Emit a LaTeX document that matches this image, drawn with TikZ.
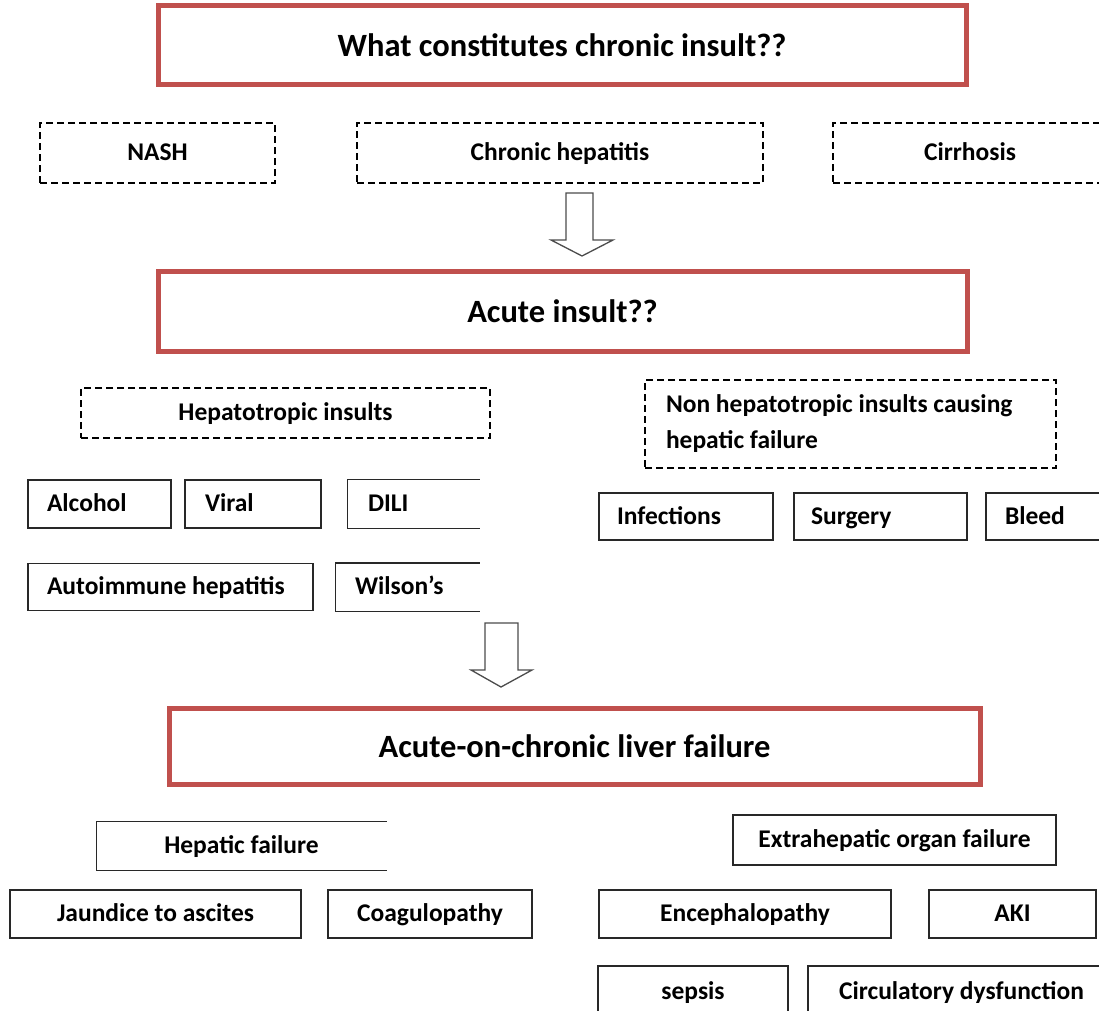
\documentclass[tikz,border=0pt]{standalone}
\usepackage{fontspec}
\setmainfont{Carlito}
\definecolor{accred}{RGB}{192,80,77}
\definecolor{boxgray}{RGB}{40,40,40}
\tikzset{
  x=1pt, y=-1pt,
  fixh/.style={text height=19pt, text depth=4pt},
  redbox/.style={draw=accred, line width=5pt, inner sep=0pt, font=\fontsize{32.5}{38}\selectfont\bfseries},
  dbox/.style={draw=black, line width=2pt, dash pattern=on 7pt off 4pt, inner sep=0pt, font=\fontsize{25.5}{36}\selectfont\bfseries},
  sbox/.style={draw=boxgray, line width=1.3pt, inner sep=0pt, fixh, font=\fontsize{25.5}{30}\selectfont\bfseries},
  obox/.style={sbox, draw=none},
  lft/.style={align=flush left, inner xsep=#1},
  blockarrow/.style={draw=black!70, line width=1.3pt, fill=white},
}
\begin{document}
\begin{tikzpicture}
\useasboundingbox (0,0) rectangle (1099,1010);
\clip (0,0) rectangle (1099,1010);
\fill[white] (0,0) rectangle (1099,1010);

% headings
\node[redbox, minimum width=808, minimum height=79] (r1) at (562,45) {What constitutes chronic insult??};
\node[redbox, minimum width=809, minimum height=80] (r2) at (562.5,311) {Acute insult??};
\node[redbox, minimum width=811, minimum height=76] (r3) at (574.5,746) {Acute-on-chronic liver failure};

% chronic insults
\node[dbox, fixh, minimum width=235, minimum height=60] (nash) at (157.5,153) {NASH};
\node[dbox, fixh, minimum width=406, minimum height=60] (chep) at (560,153) {Chronic hepatitis};
\node[dbox, fixh, minimum width=274, minimum height=60] (cirr) at (970,153) {Cirrhosis};

% arrow 1
\draw[blockarrow] (566,193) -- (593,193) -- (593,240) -- (613,240) -- (582,256) -- (551,240) -- (566,240) -- cycle;

% acute insults
\node[dbox, fixh, minimum width=409, minimum height=50] (hep) at (285.5,413) {Hepatotropic insults};
\node[dbox, minimum width=411, minimum height=88, text width=369pt, lft=21pt] (nonhep) at (850.5,424) {Non hepatotropic insults causing\\hepatic failure};

\node[sbox, minimum width=143, minimum height=48, text width=105pt, lft=19pt] (alc) at (99.5,504) {Alcohol};
\node[sbox, minimum width=136, minimum height=48, text width=96pt, lft=20pt] (vir) at (253,504) {Viral};
\node[obox, minimum width=131, minimum height=48, text width=91pt, lft=20pt] (dili) at (413.5,504) {DILI};
\draw[boxgray, line width=1.3pt] (dili.north east) -- (dili.north west) -- (dili.south west) -- (dili.south east);
\node[sbox, minimum width=285, minimum height=47, text width=247pt, lft=19pt] (aih) at (170.5,587) {Autoimmune hepatitis};
\node[obox, minimum width=143, minimum height=47, text width=105pt, lft=19pt] (wil) at (407.5,587) {Wilson’s};
\draw[boxgray, line width=1.3pt] (wil.north east) -- (wil.north west) -- (wil.south west) -- (wil.south east);

\node[sbox, minimum width=174, minimum height=47, text width=138pt, lft=18pt] (inf) at (686,516.5) {Infections};
\node[sbox, minimum width=173, minimum height=47, text width=139pt, lft=17pt] (surg) at (880.5,516.5) {Surgery};
\node[sbox, minimum width=134, minimum height=47, text width=96pt, lft=19pt] (bleed) at (1053,516.5) {Bleed};

% arrow 2
\draw[blockarrow] (485,623) -- (518,623) -- (518,670) -- (532,670) -- (501,687) -- (471,670) -- (485,670) -- cycle;

% consequences
\node[obox, minimum width=289, minimum height=48] (hf) at (241.5,846) {Hepatic failure};
\draw[boxgray, line width=1.3pt] (hf.north east) -- (hf.north west) -- (hf.south west) -- (hf.south east);
\node[sbox, minimum width=323, minimum height=50] (ehf) at (894.5,840) {Extrahepatic organ failure};

\node[sbox, minimum width=291, minimum height=48] (jaun) at (155.5,914) {Jaundice to ascites};
\node[sbox, minimum width=204, minimum height=48] (coag) at (430,914) {Coagulopathy};
\node[sbox, minimum width=292, minimum height=48] (ence) at (745,914) {Encephalopathy};
\node[sbox, minimum width=167, minimum height=48] (aki) at (1012.5,914) {AKI};

\node[sbox, minimum width=190, minimum height=52] (seps) at (693,992) {sepsis};
\node[sbox, minimum width=307, minimum height=52] (circ) at (961.5,992) {Circulatory dysfunction};
\end{tikzpicture}
\end{document}
